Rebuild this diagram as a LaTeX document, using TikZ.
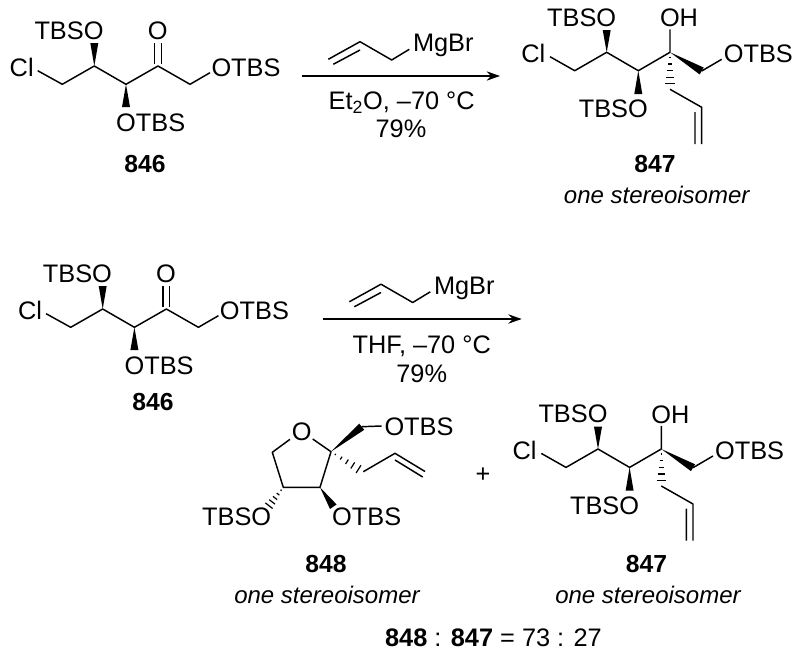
\documentclass[tikz,border=0pt]{standalone}
\usepackage{fontspec}
\setmainfont{Liberation Sans}
\usetikzlibrary{calc,arrows.meta}
\newcommand{\bwedge}[2]{\fill (#1) -- ($(#2)!3pt!90:(#1)$) -- ($(#2)!3pt!-90:(#1)$) -- cycle;}
\newcommand{\bhash}[2]{\foreach \t in {.15,.35,.55,.75,.95}{\coordinate (hp) at ($(#1)!\t!(#2)$);\draw[line width=.9pt] ($(hp)!{\t*3.6pt}!90:(#1)$) -- ($(hp)!{\t*3.6pt}!-90:(#1)$);}}
\tikzset{x=0.75pt,y=-0.75pt,
  atom/.style={inner sep=0pt,outer sep=0pt,text height=13.6pt,text depth=0pt,font=\fontsize{19}{19}\selectfont},
  cmpd/.style={atom,font=\fontsize{18.5}{19}\selectfont\bfseries},
  note/.style={atom,font=\fontsize{18}{18}\selectfont\itshape},
  bond/.style={line width=1.1pt,line join=round},
  rxn/.style={line width=1.2pt,-{Stealth[length=10pt,width=7pt]}}}
\newcommand{\ketone}{%
  \coordinate (clb) at (37.7,70.7);\coordinate (c1) at (62.3,84.3);\coordinate (c2) at (94.3,66);
  \coordinate (c3) at (126,84.3);\coordinate (c4) at (158,66);\coordinate (c5) at (190,84.3);
  \coordinate (ob) at (210,72.7);\coordinate (w2) at (94.3,43);\coordinate (w3) at (126,107);
  \coordinate (d1a) at (154.7,64);\coordinate (d1b) at (154.7,43);\coordinate (d2a) at (161.3,64);\coordinate (d2b) at (161.3,43);
  \node[atom] (cl) at (21.7,67) {Cl};
  \node[atom] (tbso) at (69,30) {TBSO};
  \node[atom] (oxo) at (157.7,30) {O};
  \node[atom] (otbs) at (246,67) {OTBS};
  \node[atom] (otbsb) at (150.7,122) {OTBS};
  \draw[bond] (clb) -- (c1) -- (c2) -- (c3) -- (c4) -- (c5) -- (ob);
  \draw[bond] (d1a) -- (d1b) (d2a) -- (d2b);
  \bwedge{c2}{w2}\bwedge{c3}{w3}}
\newcommand{\alcohol}{%
  \coordinate (clb) at (550,56.7);\coordinate (c1) at (574.7,70.7);\coordinate (c2) at (606.7,52.3);
  \coordinate (c3) at (638.3,70.7);\coordinate (c4) at (670,52.3);\coordinate (c5) at (701.7,71);
  \coordinate (ob) at (721.7,59.3);\coordinate (w2) at (606.7,30);\coordinate (w3) at (638.3,94);
  \coordinate (ohb) at (670,29.3);\coordinate (al1) at (670,89.3);\coordinate (h1) at (670,85.5);\coordinate (al2) at (701.7,107.3);
  \coordinate (da) at (701.7,144);\coordinate (db) at (695,112);\coordinate (dc) at (695,144);
  \node[atom] (cl) at (533.3,53.3) {Cl};
  \node[atom] (tbso) at (581.7,17) {TBSO};
  \node[atom] (oh) at (679,17.5) {OH};
  \node[atom] (otbs) at (758.3,53.5) {OTBS};
  \node[atom] (tbsob) at (613.3,108.3) {TBSO};
  \draw[bond] (clb) -- (c1) -- (c2) -- (c3) -- (c4) (c4) -- (ohb);
  \draw[bond] (c5) -- (ob);
  \draw[bond] (al1) -- (al2) -- (da) (db) -- (dc);
  \bwedge{c2}{w2}\bwedge{c3}{w3}\bwedge{c4}{c5}\bhash{c4}{h1}}
\newcommand{\reagent}{%
  \coordinate (a1) at (328.3,59.3);\coordinate (a2) at (360,41.7);\coordinate (a3) at (333.3,64.3);\coordinate (a4) at (360,50);
  \coordinate (a5) at (391.7,60);\coordinate (a6) at (409.3,49.3);
  \node[atom] (mg) at (443.3,42.7) {MgBr};
  \draw[bond] (a1) -- (a2) -- (a5) -- (a6) (a3) -- (a4);}
\begin{document}
\begin{tikzpicture}
\useasboundingbox (0,0) rectangle (800,657);
% top reaction
\begin{scope}[name prefix=ta-]\ketone\end{scope}
\node[cmpd] (n846a) at (145,163) {846};
\begin{scope}[name prefix=tr-]\reagent\end{scope}
\coordinate (arr1a) at (301.7,76);\coordinate (arr1b) at (500,76);
\draw[rxn] (arr1a) -- (arr1b);
\node[atom] (cond1) at (401.7,100) {Et\textsubscript{2}O, –70 °C};
\node[atom] (yield1) at (401,128) {79\%};
\begin{scope}[name prefix=tp-]\alcohol\end{scope}
\node[cmpd] (n847a) at (655,163.3) {847};
\node[note] (iso1) at (656.7,194) {one stereoisomer};
% bottom reaction
\begin{scope}[shift={(8.4,243)},name prefix=ba-]\ketone\end{scope}
\node[cmpd] (n846b) at (153,401) {846};
\begin{scope}[shift={(21,242.5)},name prefix=br-]\reagent\end{scope}
\coordinate (arr2a) at (323.3,319);\coordinate (arr2b) at (521.7,319);
\draw[rxn] (arr2a) -- (arr2b);
\node[atom] (cond2) at (421.7,344) {THF, –70 °C};
\node[atom] (yield2) at (421.7,373) {79\%};
% 848
\coordinate (r1) at (290,439.3);\coordinate (r2) at (272.3,452.3);\coordinate (r3) at (283.3,487.3);
\coordinate (r4) at (320,487.3);\coordinate (r5) at (331,451.7);\coordinate (r6) at (312.7,439);
\coordinate (m1) at (361.7,426.7);\coordinate (m2) at (381.7,426);
\coordinate (y1) at (363.3,471.7);\coordinate (y0) at (360,470);\coordinate (y2) at (395,453.3);\coordinate (y3) at (425,471.5);
\coordinate (y4) at (395,460);\coordinate (y5) at (422.7,477);
\coordinate (w4) at (333.3,506.7);\coordinate (h3) at (268.3,506.7);
\node[atom] (ringo) at (301.7,431.7) {O};
\node[atom] (o848a) at (419,426) {OTBS};
\node[atom] (o848b) at (366.7,516.7) {OTBS};
\node[atom] (o848c) at (236.7,516.7) {TBSO};
\draw[bond] (r1) -- (r2) -- (r3) -- (r4) -- (r5) -- (r6);
\draw[bond] (m1) -- (m2);
\draw[bond] (y1) -- (y2) -- (y3) (y4) -- (y5);
\bwedge{r5}{m1}\bwedge{r4}{w4}\bhash{r3}{h3}\bhash{r5}{y0}
\node[cmpd] (n848) at (326,563) {848};
\node[note] (iso2) at (327,594) {one stereoisomer};
\node[atom] (plus) at (483,473) {+};
\begin{scope}[shift={(-8.7,396.7)},name prefix=bp-]\alcohol\end{scope}
\node[cmpd] (n847b) at (646.5,563.5) {847};
\node[note] (iso3) at (648,594) {one stereoisomer};
\node[atom] (ratio) at (493.5,637) {\textbf{848} : \textbf{847} = 73 : 27};
\end{tikzpicture}
\end{document}
